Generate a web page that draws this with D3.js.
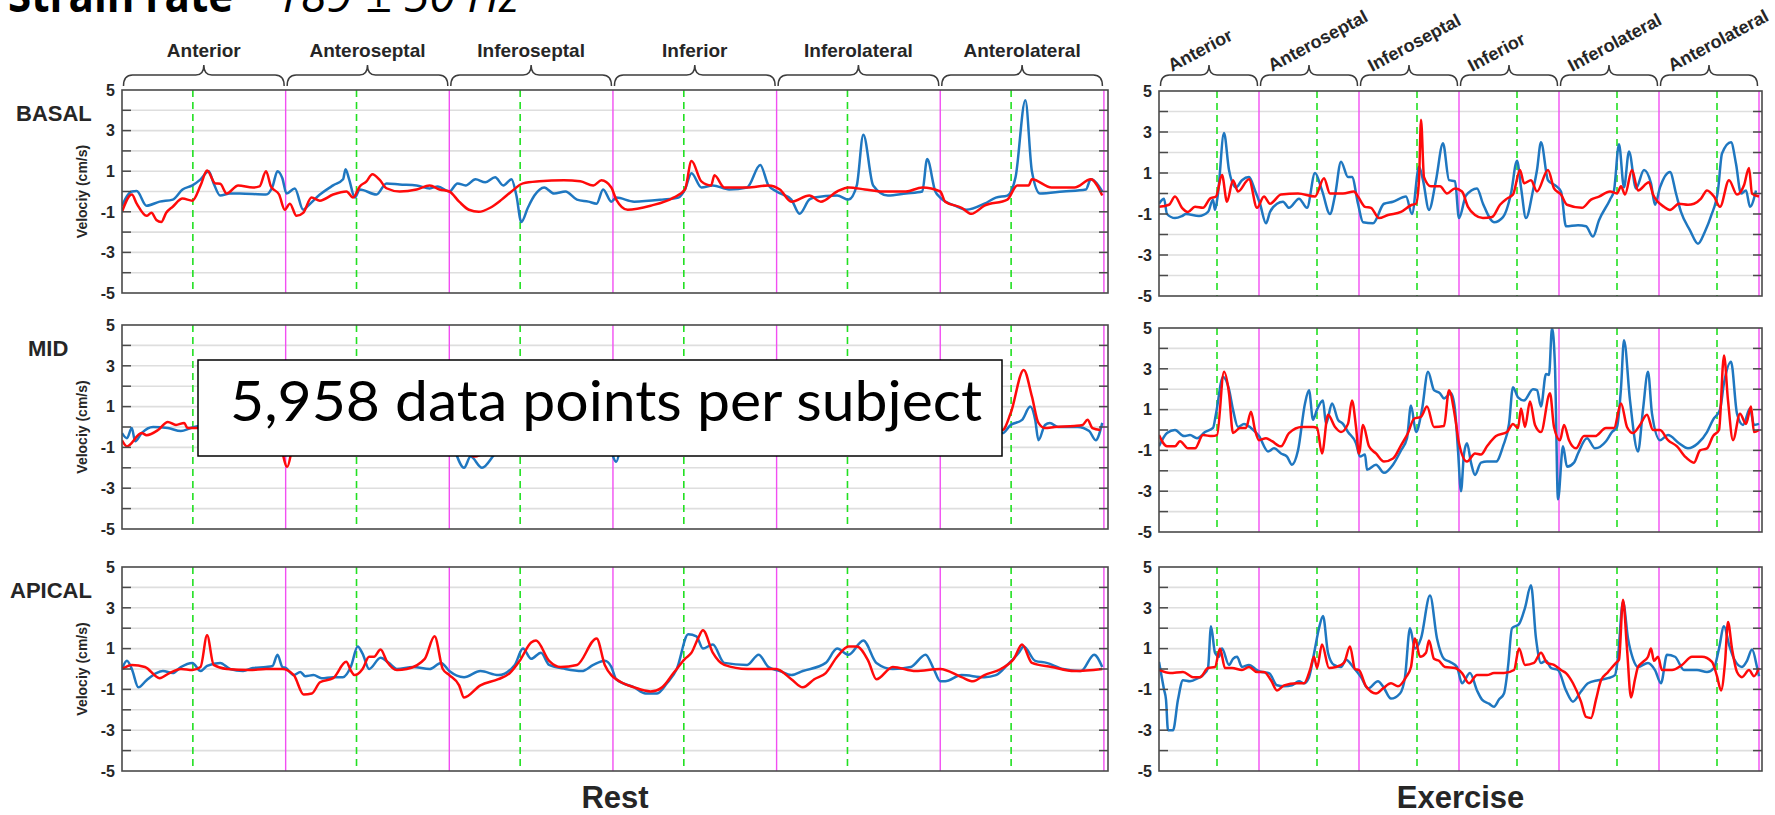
<!DOCTYPE html>
<html>
<head>
<meta charset="utf-8">
<script src="https://cdn.jsdelivr.net/npm/d3@7"></script>
<style>
  html, body { margin: 0; padding: 0; background: #fff; }
  svg { display: block; }
  text { font-family: "Liberation Sans", Arial, Helvetica, sans-serif; }
</style>
</head>
<body>
<svg id="chart" width="1775" height="815"></svg>
<script>
// ---------- labels ----------
const segmentNames = ["Anterior", "Anteroseptal", "Inferoseptal", "Inferior", "Inferolateral", "Anterolateral"];
const levelNames = ["BASAL", "MID", "APICAL"];
const conditionNames = ["Rest", "Exercise"];
const yTickLabels = [5, 3, 1, -1, -3, -5];
const yAxisTitle = "Velociy (cm/s)";
const titleMain = "Strain rate";
const titleRate = "189 \u00b1 50 Hz";
const noteText = "5,958 data points per subject";

// event marker position inside each segment (fraction of a segment)
const restEventOffset = 0.433;
const exerciseEventOffset = 0.58;

// ---------- velocity traces: [time in segment units, velocity cm/s] ----------
const restBasalBlue = [[0,-0.7],[0.06,0],[0.09,0.02],[0.15,-0.7],[0.23,-0.5],[0.31,-0.4],[0.37,0.1],[0.43,0.3],[0.48,0.6],[0.53,1.0],[0.56,0.4],[0.6,-0.2],[0.66,-0.1],[0.72,-0.1],[0.88,-0.15],[0.92,0.25],[0.95,1.0],[0.98,0.65],[1.005,-0.1],[1.056,0.15],[1.107,-0.9],[1.137,-0.7],[1.209,-0.15],[1.29,0.3],[1.351,0.6],[1.366,1.1],[1.388,0.6],[1.423,-0.3],[1.453,0.1],[1.555,-0.15],[1.616,0.4],[1.697,0.35],[1.8,0.3],[1.88,0.15],[1.93,0.25],[2.0,0.0],[2.05,0.4],[2.1,0.3],[2.16,0.6],[2.22,0.45],[2.28,0.7],[2.33,0.3],[2.38,0.6],[2.41,-0.2],[2.44,-1.5],[2.48,-0.8],[2.52,-0.2],[2.58,0.2],[2.64,-0.1],[2.71,0.0],[2.78,-0.4],[2.85,-0.5],[2.9,-0.6],[2.94,0.1],[2.99,-0.5],[3.02,-0.3],[3.13,-0.5],[3.3,-0.4],[3.4,-0.3],[3.44,0.1],[3.48,0.9],[3.54,0.2],[3.61,0.3],[3.71,0.1],[3.82,0.2],[3.9,1.3],[3.95,0.3],[4.0,0.0],[4.09,-0.4],[4.14,-1.1],[4.2,-0.4],[4.23,-0.3],[4.37,-0.2],[4.44,-0.4],[4.49,0.3],[4.53,2.8],[4.59,0.3],[4.68,-0.2],[4.79,-0.1],[4.89,0.0],[4.92,1.6],[4.97,0.0],[5.0,-0.3],[5.09,-0.7],[5.16,-0.9],[5.27,-0.6],[5.34,-0.3],[5.41,-0.2],[5.46,0.7],[5.52,4.5],[5.56,1.0],[5.61,-0.1],[5.75,0.0],[5.89,0.1],[5.92,0.6],[5.99,0.0]];
const restBasalRed = [[0,-1.0],[0.06,-0.15],[0.09,-0.6],[0.15,-1.2],[0.18,-1.05],[0.21,-1.4],[0.24,-1.5],[0.27,-1.05],[0.31,-0.75],[0.37,-0.35],[0.43,-0.45],[0.48,0.3],[0.52,1.03],[0.57,0.4],[0.6,0.38],[0.64,-0.1],[0.71,0.3],[0.8,0.2],[0.84,0.25],[0.88,1.0],[0.91,0.25],[0.96,-0.15],[0.995,-0.9],[1.026,-0.6],[1.066,-1.2],[1.107,-1.05],[1.158,-0.3],[1.209,-0.45],[1.29,-0.15],[1.372,0.0],[1.412,-0.3],[1.453,0.25],[1.494,0.5],[1.53,0.85],[1.575,0.57],[1.616,0.16],[1.697,0.0],[1.8,0.1],[1.88,0.3],[1.94,0.1],[2.0,0.0],[2.06,-0.5],[2.12,-0.9],[2.18,-1.0],[2.25,-0.8],[2.32,-0.4],[2.38,0.0],[2.45,0.4],[2.55,0.5],[2.7,0.55],[2.8,0.5],[2.88,0.3],[2.93,0.55],[2.99,0.2],[3.02,-0.4],[3.09,-0.9],[3.23,-0.7],[3.37,-0.3],[3.44,0.1],[3.48,1.5],[3.54,0.5],[3.6,0.3],[3.62,0.8],[3.68,0.2],[3.82,0.2],[3.95,0.3],[4.02,0.1],[4.09,-0.5],[4.2,-0.2],[4.27,-0.5],[4.37,0.0],[4.44,0.2],[4.54,0.1],[4.65,0.0],[4.79,0.0],[4.89,0.2],[5.0,0.0],[5.03,-0.5],[5.13,-0.8],[5.19,-1.1],[5.27,-0.7],[5.41,-0.4],[5.47,0.3],[5.54,0.3],[5.56,0.6],[5.68,0.2],[5.82,0.2],[5.92,0.6],[5.99,-0.2]];

const restMidBlue = [[0,-0.3],[0.03,-0.55],[0.06,-0.05],[0.08,-0.7],[0.12,-0.3],[0.19,0.0],[0.28,-0.05],[0.36,-0.2],[0.42,-0.05],[0.47,0.05],[0.6,0.3],[0.8,0.1],[1.0,-0.6],[1.2,0.2],[1.5,0.4],[1.8,0.1],[2.0,-0.6],[2.09,-2.0],[2.13,-1.45],[2.2,-2.0],[2.28,-1.3],[2.4,-0.5],[2.6,0.2],[2.8,0.0],[2.96,-0.5],[3.02,-1.7],[3.06,-0.6],[3.3,0.3],[3.6,0.5],[3.9,0.2],[4.2,0.0],[4.5,0.4],[4.8,0.2],[5.1,-0.2],[5.38,-0.3],[5.43,0.1],[5.5,0.35],[5.55,1.0],[5.58,0.35],[5.6,-0.65],[5.64,0.1],[5.67,0.2],[5.72,0.0],[5.84,0.0],[5.91,-0.2],[5.95,-0.65],[5.99,0.2]];
const restMidRed = [[0,-0.65],[0.03,-0.95],[0.12,-0.3],[0.15,-0.4],[0.22,-0.15],[0.28,0.25],[0.33,0.1],[0.38,0.2],[0.4,-0.05],[0.47,-0.05],[0.7,0.2],[0.95,-0.4],[1.01,-1.95],[1.05,-0.8],[1.3,0.0],[1.6,0.3],[1.9,0.0],[2.1,-1.0],[2.15,-1.45],[2.3,-0.8],[2.6,0.3],[2.9,0.0],[3.1,-0.5],[3.4,0.4],[3.7,0.3],[4.0,0.0],[4.3,0.2],[4.6,0.5],[4.9,0.1],[5.2,-0.1],[5.38,-0.15],[5.43,0.67],[5.51,2.8],[5.56,1.5],[5.6,0.2],[5.64,-0.05],[5.7,0.0],[5.82,0.05],[5.87,0.1],[5.9,0.35],[5.93,-0.05],[5.98,-0.15]];

const restApicalBlue = [[0,0],[0.03,0.4],[0.06,0],[0.1,-0.9],[0.15,-0.55],[0.21,-0.2],[0.25,-0.1],[0.31,-0.2],[0.36,0.1],[0.43,0.3],[0.48,-0.1],[0.52,0.15],[0.6,0.3],[0.66,0],[0.74,-0.1],[0.8,0.05],[0.88,0.1],[0.92,0.15],[0.95,0.7],[0.98,0.1],[1.0,0.05],[1.05,-0.3],[1.09,-0.15],[1.12,-0.35],[1.17,-0.3],[1.22,-0.45],[1.29,-0.4],[1.35,-0.4],[1.4,0.15],[1.44,1.1],[1.47,0.75],[1.51,0],[1.58,0.55],[1.63,0.3],[1.68,0],[1.78,0.1],[1.88,0.0],[1.95,0.3],[2.0,-0.1],[2.09,-0.4],[2.19,-0.1],[2.3,-0.3],[2.4,0.2],[2.45,1.0],[2.5,0.5],[2.56,0.8],[2.61,0.2],[2.71,0.0],[2.81,-0.1],[2.88,0.2],[2.95,0.4],[2.99,0.1],[3.02,-0.5],[3.13,-0.9],[3.2,-1.2],[3.27,-1.2],[3.33,-0.7],[3.39,0.0],[3.46,1.7],[3.51,1.6],[3.55,1.0],[3.61,1.2],[3.68,0.3],[3.82,0.2],[3.89,0.7],[3.95,0.1],[4.02,-0.1],[4.09,-0.3],[4.16,-0.1],[4.3,0.3],[4.37,1.0],[4.44,0.7],[4.53,1.4],[4.61,0.3],[4.71,0.0],[4.82,0.1],[4.91,0.7],[4.96,0.0],[5.0,-0.6],[5.03,-0.6],[5.13,-0.3],[5.27,-0.4],[5.34,-0.3],[5.41,0.2],[5.48,0.8],[5.51,1.1],[5.58,0.4],[5.65,0.3],[5.75,0.0],[5.86,-0.1],[5.94,0.7],[5.99,0.1]];
const restApicalRed = [[0,0],[0.06,0.2],[0.14,0.1],[0.23,-0.45],[0.29,-0.2],[0.36,0],[0.43,-0.05],[0.48,0.1],[0.52,1.65],[0.56,0.2],[0.64,0],[0.78,-0.05],[0.88,0],[0.98,0],[1.05,-0.3],[1.11,-1.25],[1.16,-1.2],[1.21,-0.65],[1.29,-0.45],[1.37,0.35],[1.4,-0.1],[1.42,-0.3],[1.47,0],[1.51,0.6],[1.54,0.6],[1.58,0.95],[1.62,0.35],[1.68,-0.05],[1.74,0.0],[1.85,0.5],[1.91,1.6],[1.96,0.0],[2.0,-0.3],[2.06,-0.8],[2.09,-1.4],[2.19,-0.8],[2.3,-0.5],[2.37,-0.2],[2.43,0.4],[2.5,1.3],[2.53,1.4],[2.61,0.4],[2.68,0.1],[2.78,0.2],[2.9,1.5],[2.95,0.2],[2.99,-0.3],[3.02,-0.5],[3.13,-0.9],[3.23,-1.1],[3.3,-0.9],[3.37,-0.2],[3.44,0.5],[3.48,0.8],[3.52,1.5],[3.55,1.9],[3.61,0.8],[3.68,0.2],[3.82,0],[3.996,0],[4.09,-0.5],[4.16,-0.9],[4.23,-0.5],[4.3,-0.2],[4.37,0.6],[4.44,1.1],[4.49,1.1],[4.56,0.4],[4.61,-0.5],[4.71,0.1],[4.85,-0.1],[5.0,0],[5.13,-0.4],[5.2,-0.6],[5.27,-0.3],[5.37,0],[5.45,0.5],[5.5,1.2],[5.56,0.3],[5.68,0.1],[5.82,-0.1],[5.99,0]];

const exerBasalBlue = [[0,-0.5],[0.05,-0.25],[0.08,-1.0],[0.16,-1.2],[0.23,-1.1],[0.27,-1.0],[0.4,-1.1],[0.49,-0.9],[0.54,-0.3],[0.56,-0.8],[0.59,0],[0.65,2.95],[0.7,1.15],[0.77,0.3],[0.83,0.65],[0.9,0.8],[0.96,0.15],[1.01,-0.5],[1.07,-1.45],[1.11,-0.9],[1.18,-0.5],[1.24,-0.4],[1.3,-0.7],[1.4,-0.25],[1.48,-0.7],[1.56,1.0],[1.63,0.15],[1.71,-1.0],[1.76,-0.1],[1.82,1.55],[1.89,0.8],[1.93,0.8],[1.99,-0.5],[2.04,-1.4],[2.14,-1.45],[2.25,-0.5],[2.34,-0.4],[2.47,-0.15],[2.53,-1.0],[2.6,1.3],[2.64,0.65],[2.7,-0.8],[2.77,0.65],[2.84,2.45],[2.9,0.65],[2.96,0.6],[3.0,-1.2],[3.07,-0.1],[3.18,0.25],[3.24,-0.5],[3.35,-1.4],[3.44,-1.15],[3.52,0],[3.58,1.6],[3.62,0.3],[3.67,-1.2],[3.74,0.15],[3.78,1.15],[3.82,2.5],[3.89,0.65],[3.96,0.4],[4.02,0.1],[4.07,-1.6],[4.19,-1.55],[4.27,-1.6],[4.34,-2.1],[4.4,-1.3],[4.51,-0.3],[4.55,0.15],[4.6,2.4],[4.65,0.3],[4.7,2.05],[4.77,0.25],[4.85,1.15],[4.92,0.5],[4.96,-0.55],[5.01,0.3],[5.11,1.05],[5.17,0],[5.22,-0.9],[5.31,-1.8],[5.39,-2.45],[5.46,-1.85],[5.52,-1.1],[5.59,0.15],[5.63,1.95],[5.72,2.5],[5.77,1.45],[5.82,0],[5.87,0.15],[5.91,-0.65],[5.97,0.15]];
const exerBasalRed = [[0,-0.65],[0.1,-0.55],[0.16,-0.15],[0.23,-0.7],[0.29,-0.9],[0.36,-0.65],[0.44,-0.7],[0.51,-0.25],[0.57,-0.15],[0.63,0.9],[0.68,-0.4],[0.74,0.65],[0.79,0.1],[0.9,0.7],[0.98,-0.7],[1.05,-0.15],[1.11,-0.5],[1.22,-0.05],[1.39,0],[1.56,-0.15],[1.65,0.75],[1.71,0],[1.84,0],[1.95,0.1],[1.99,-0.15],[2.06,-0.65],[2.12,-0.7],[2.2,-1.2],[2.29,-1.05],[2.42,-0.9],[2.53,-0.55],[2.57,-0.5],[2.6,0.65],[2.62,3.6],[2.65,0.8],[2.72,0.35],[2.81,0.35],[2.88,0],[2.96,0.25],[3.03,0.1],[3.09,-0.65],[3.16,-1.05],[3.24,-1.2],[3.33,-1.15],[3.41,-0.55],[3.48,-0.25],[3.54,-0.05],[3.61,1.15],[3.65,0.5],[3.72,0.65],[3.78,0.1],[3.89,1.15],[3.95,0.25],[4.02,-0.05],[4.08,-0.55],[4.23,-0.7],[4.32,-0.3],[4.4,-0.15],[4.51,0.1],[4.58,0],[4.62,0.35],[4.66,-0.05],[4.73,1.15],[4.79,0.15],[4.9,0.55],[4.94,-0.05],[5.05,-0.65],[5.11,-0.8],[5.2,-0.5],[5.29,-0.55],[5.35,-0.5],[5.42,-0.25],[5.48,0.15],[5.55,-0.15],[5.61,-0.65],[5.7,0.65],[5.78,-0.05],[5.85,0.4],[5.9,1.25],[5.93,0],[6.0,-0.15]];

const exerMidBlue = [[0,-0.8],[0.08,-0.15],[0.16,0],[0.25,-0.3],[0.31,-0.25],[0.38,-0.4],[0.46,-0.1],[0.54,0.1],[0.57,0.8],[0.64,2.6],[0.7,2.0],[0.74,1.0],[0.79,0.15],[0.85,0.3],[0.92,0.1],[1.0,-0.3],[1.09,-1.05],[1.15,-0.9],[1.22,-1.15],[1.28,-1.3],[1.33,-1.7],[1.39,-1.0],[1.46,1.3],[1.5,1.95],[1.54,0.5],[1.58,1.0],[1.64,1.45],[1.67,0.3],[1.73,1.3],[1.79,0.5],[1.84,0.3],[1.89,-0.1],[1.97,-0.65],[2.01,-1.3],[2.06,-1.2],[2.08,-1.95],[2.17,-1.7],[2.25,-2.1],[2.34,-1.7],[2.42,-1.0],[2.48,-0.4],[2.52,1.2],[2.57,-0.1],[2.63,1.0],[2.69,2.85],[2.75,1.95],[2.81,1.8],[2.85,1.55],[2.92,1.8],[2.96,1.0],[2.99,-1.0],[3.02,-3.0],[3.05,-1.15],[3.08,-0.65],[3.12,-1.6],[3.16,-2.2],[3.22,-1.6],[3.28,-1.55],[3.37,-1.55],[3.44,-0.8],[3.5,0.3],[3.54,2.1],[3.59,1.6],[3.65,1.45],[3.74,2.0],[3.78,1.95],[3.82,1.15],[3.87,2.75],[3.9,2.7],[3.93,5.0],[3.96,3.1],[3.99,-3.4],[4.04,-0.8],[4.08,-1.8],[4.15,-1.6],[4.19,-1.15],[4.28,-0.4],[4.36,-0.9],[4.47,-0.55],[4.53,-0.1],[4.58,0.15],[4.62,2.05],[4.65,4.4],[4.71,1.45],[4.79,-1.05],[4.84,1.0],[4.89,2.85],[4.93,0.8],[5.01,-0.5],[5.09,-0.25],[5.2,-0.65],[5.29,-0.9],[5.39,-0.65],[5.48,-0.1],[5.54,0.5],[5.61,1.0],[5.65,2.3],[5.72,3.35],[5.78,0.8],[5.84,0.25],[5.91,1.05],[5.95,0.25],[6.0,0.3]];
const exerMidRed = [[0,-0.25],[0.08,-0.8],[0.16,-0.8],[0.21,-0.55],[0.29,-0.9],[0.36,-0.9],[0.44,-0.25],[0.53,-0.3],[0.58,-0.25],[0.65,2.85],[0.7,1.8],[0.74,-0.15],[0.81,0.1],[0.87,0.1],[0.92,0.9],[0.96,0],[1.0,-0.5],[1.07,-0.4],[1.13,-0.55],[1.22,-0.8],[1.3,-0.15],[1.43,0.15],[1.54,0.15],[1.58,0.1],[1.63,-1.15],[1.69,0.75],[1.76,0.15],[1.82,-0.1],[1.89,0.3],[1.93,1.45],[1.97,0.15],[2.0,-1.15],[2.04,0.25],[2.1,-0.8],[2.17,-1.15],[2.25,-1.55],[2.34,-1.4],[2.42,-0.75],[2.49,-0.15],[2.55,0.55],[2.62,0.65],[2.68,1.15],[2.75,0.15],[2.85,0.2],[2.9,1.95],[2.96,0.65],[3.0,-0.65],[3.08,-1.55],[3.16,-1.15],[3.22,-1.2],[3.28,-0.8],[3.37,-0.3],[3.48,-0.1],[3.54,0.3],[3.59,0.1],[3.62,1.05],[3.66,0.15],[3.71,1.4],[3.76,0.25],[3.82,-0.1],[3.91,1.8],[3.95,0.15],[4.01,-0.5],[4.05,0.25],[4.1,-0.5],[4.17,-0.9],[4.25,-0.3],[4.36,-0.3],[4.47,0.1],[4.55,0.1],[4.62,1.3],[4.68,0.15],[4.74,-0.15],[4.81,0.25],[4.88,0.75],[4.94,0],[5.01,0],[5.09,-0.5],[5.18,-0.8],[5.26,-1.3],[5.35,-1.6],[5.41,-1.0],[5.48,-0.9],[5.54,-0.3],[5.6,0],[5.65,3.65],[5.69,1.45],[5.74,-0.5],[5.81,0.8],[5.87,0.3],[5.92,1.15],[5.95,-0.1],[6.0,0]];

const exerApicalBlue = [[0,0.35],[0.05,-1.0],[0.07,-1.5],[0.09,-3.0],[0.14,-3.0],[0.19,-1.5],[0.24,-0.55],[0.31,-0.6],[0.39,-0.45],[0.44,-0.3],[0.49,0.05],[0.52,2.1],[0.56,0.8],[0.6,0.6],[0.63,1.0],[0.7,0.2],[0.74,0.5],[0.78,0.6],[0.83,0.1],[0.9,0.2],[0.98,-0.05],[1.03,-0.15],[1.1,-0.2],[1.18,-0.8],[1.25,-0.85],[1.33,-0.8],[1.4,-0.6],[1.45,-0.7],[1.5,-0.4],[1.55,0.75],[1.6,2.0],[1.64,2.6],[1.69,0.8],[1.75,0.2],[1.82,0.1],[1.87,0.45],[1.94,0.1],[2.02,-0.4],[2.09,-0.95],[2.19,-0.6],[2.24,-0.85],[2.32,-1.45],[2.41,-1.2],[2.46,-0.4],[2.51,2.0],[2.56,1.0],[2.62,1.5],[2.71,3.6],[2.78,1.5],[2.85,0.5],[2.91,0.35],[2.98,0.1],[3.03,-0.7],[3.11,-0.2],[3.18,-1.05],[3.23,-1.5],[3.3,-1.7],[3.35,-1.85],[3.4,-1.5],[3.45,-1.2],[3.49,0.1],[3.53,2.0],[3.6,2.2],[3.66,3.0],[3.72,4.1],[3.77,1.5],[3.82,0.3],[3.87,0.4],[3.92,0.05],[3.99,-0.05],[4.07,-1.05],[4.14,-1.6],[4.22,-1.1],[4.29,-0.7],[4.39,-0.55],[4.49,-0.45],[4.56,-0.3],[4.59,0.6],[4.64,3.3],[4.69,1.5],[4.74,0.5],[4.79,0.1],[4.89,0.3],[4.96,-0.05],[5.02,-0.7],[5.08,0.7],[5.16,0.6],[5.25,-0.05],[5.38,-0.05],[5.48,-0.15],[5.55,0.05],[5.6,1.0],[5.65,2.1],[5.7,1.2],[5.75,0.5],[5.83,0.1],[5.88,0.4],[5.93,0.95],[5.98,0.1],[6.0,-0.35]];
const exerApicalRed = [[0,-0.05],[0.11,-0.2],[0.24,-0.15],[0.34,-0.4],[0.41,-0.4],[0.49,0.05],[0.56,0.1],[0.61,1.0],[0.66,0.05],[0.73,0.05],[0.83,-0.05],[0.9,0.1],[0.98,-0.15],[1.05,-0.15],[1.12,-0.55],[1.18,-1.05],[1.25,-0.8],[1.38,-0.7],[1.45,-0.7],[1.51,-0.05],[1.55,0.6],[1.58,0.05],[1.63,1.2],[1.7,0.05],[1.77,0.1],[1.85,0.3],[1.91,1.1],[1.96,0.0],[2.0,-0.05],[2.07,-0.85],[2.17,-1.2],[2.24,-0.95],[2.32,-0.7],[2.39,-0.85],[2.47,-0.4],[2.52,0.1],[2.56,1.5],[2.61,0.6],[2.67,0.8],[2.7,1.4],[2.75,0.5],[2.8,0.4],[2.86,0.1],[2.96,0.05],[3.03,-0.2],[3.1,-0.7],[3.18,-0.3],[3.28,-0.3],[3.35,-0.2],[3.45,-0.2],[3.55,-0.05],[3.6,1.0],[3.66,0.2],[3.75,0.3],[3.82,0.8],[3.88,0.3],[3.95,0.2],[4.02,-0.05],[4.07,-0.2],[4.14,-0.7],[4.22,-1.6],[4.27,-2.35],[4.32,-2.4],[4.37,-1.5],[4.42,-0.55],[4.49,-0.15],[4.57,0.3],[4.6,0.45],[4.64,3.4],[4.68,1.0],[4.72,-1.4],[4.76,-0.5],[4.79,0.1],[4.84,0.35],[4.89,0.6],[4.92,1.0],[4.95,0.4],[4.99,0.6],[5.03,-0.05],[5.13,-0.05],[5.23,0.2],[5.33,0.6],[5.43,0.6],[5.53,0.35],[5.58,-0.35],[5.62,-1.05],[5.66,0.3],[5.69,2.3],[5.73,1.0],[5.78,-0.15],[5.83,-0.4],[5.9,-0.05],[5.95,-0.35],[6.0,0.05]];

// traces grouped per condition, one [blue, red] pair per level
const restTraces = [[restBasalBlue, restBasalRed], [restMidBlue, restMidRed], [restApicalBlue, restApicalRed]];
const exerciseTraces = [[exerBasalBlue, exerBasalRed], [exerMidBlue, exerMidRed], [exerApicalBlue, exerApicalRed]];

// ---------- layout ----------
const svg = d3.select("#chart");
const COLORS = {
  blue: "#1f77c0", red: "#ff0a0a", green: "#22e022", magenta: "#f24ff2",
  grid: "#dedede", frame: "#4a4a4a", text: "#262626"
};

const columns = [
  { name: conditionNames[0], traces: restTraces, eventOffset: restEventOffset,
    x0: 122, x1: 1108, tMax: 6.025, rows: [[90, 293], [325, 529], [567, 771]], rotatedLabels: false },
  { name: conditionNames[1], traces: exerciseTraces, eventOffset: exerciseEventOffset,
    x0: 1159, x1: 1762, tMax: 6.03, rows: [[91, 296], [328, 532], [567, 771]], rotatedLabels: true }
];

const line = (x, y) => d3.line().x(d => x(d[0])).y(d => y(d[1])).curve(d3.curveMonotoneX);

function bracePath(xa, xb, yEnd, yBar, yTip) {
  const xc = (xa + xb) / 2, r = 9, q = 8;
  return `M${xa},${yEnd} Q${xa},${yBar} ${xa + r},${yBar} L${xc - q},${yBar} ` +
         `Q${xc},${yBar} ${xc},${yTip} Q${xc},${yBar} ${xc + q},${yBar} ` +
         `L${xb - r},${yBar} Q${xb},${yBar} ${xb},${yEnd}`;
}

columns.forEach((col, ci) => {
  const x = d3.scaleLinear().domain([0, col.tMax]).range([col.x0, col.x1]);
  const segIdx = d3.range(segmentNames.length);

  // segment braces and names above the first row
  const top = svg.append("g");
  segIdx.forEach(i => {
    const xa = x(i) + 1.5, xb = x(i + 1) - 1.5;
    top.append("path").attr("d", bracePath(xa, xb, 86, 75, 65))
      .attr("fill", "none").attr("stroke", "#3c3c3c").attr("stroke-width", 1.5);
    if (!col.rotatedLabels) {
      top.append("text").attr("x", (xa + xb) / 2).attr("y", 57)
        .attr("text-anchor", "middle").attr("font-size", 19).attr("font-weight", 700)
        .attr("fill", COLORS.text).text(segmentNames[i]);
    } else {
      top.append("text").attr("transform", `translate(${x(i) + 13},72) rotate(-28)`)
        .attr("font-size", 18).attr("font-weight", 700)
        .attr("fill", COLORS.text).text(segmentNames[i]);
    }
  });

  col.rows.forEach(([yTop, yBot], ri) => {
    const y = d3.scaleLinear().domain([-5, 5]).range([yBot, yTop]);
    const g = svg.append("g");
    const clipId = `clip-${ci}-${ri}`;
    g.append("clipPath").attr("id", clipId).append("rect")
      .attr("x", col.x0).attr("y", yTop).attr("width", col.x1 - col.x0).attr("height", yBot - yTop);

    // horizontal grid at every integer
    g.selectAll(".grid").data(d3.range(-4, 5)).join("line")
      .attr("x1", col.x0).attr("x2", col.x1)
      .attr("y1", d => y(d)).attr("y2", d => y(d))
      .attr("stroke", COLORS.grid).attr("stroke-width", 1.6);

    // segment boundaries
    g.selectAll(".seg").data(d3.range(1, segmentNames.length + 1)).join("line")
      .attr("x1", d => x(d)).attr("x2", d => x(d))
      .attr("y1", yTop).attr("y2", yBot)
      .attr("stroke", COLORS.magenta).attr("stroke-width", 1.4);

    // event markers
    g.selectAll(".evt").data(segIdx.map(i => i + col.eventOffset)).join("line")
      .attr("x1", d => x(d)).attr("x2", d => x(d))
      .attr("y1", yTop).attr("y2", yBot)
      .attr("stroke", COLORS.green).attr("stroke-width", 1.6)
      .attr("stroke-dasharray", "7,5");

    // traces
    const [blue, red] = col.traces[ri];
    const lg = g.append("g").attr("clip-path", `url(#${clipId})`);
    lg.append("path").datum(blue).attr("d", line(x, y))
      .attr("fill", "none").attr("stroke", COLORS.blue).attr("stroke-width", 2.5)
      .attr("stroke-linejoin", "round");
    lg.append("path").datum(red).attr("d", line(x, y))
      .attr("fill", "none").attr("stroke", COLORS.red).attr("stroke-width", 2.5)
      .attr("stroke-linejoin", "round");

    // frame
    g.append("rect").attr("x", col.x0).attr("y", yTop)
      .attr("width", col.x1 - col.x0).attr("height", yBot - yTop)
      .attr("fill", "none").attr("stroke", COLORS.frame).attr("stroke-width", 1.6);

    // inward ticks, both sides
    const tickVals = d3.range(-4, 5);
    g.selectAll(".tl").data(tickVals).join("line")
      .attr("x1", col.x0).attr("x2", col.x0 + 9)
      .attr("y1", d => y(d)).attr("y2", d => y(d))
      .attr("stroke", COLORS.frame).attr("stroke-width", 1.5);
    g.selectAll(".tr").data(tickVals).join("line")
      .attr("x1", col.x1).attr("x2", col.x1 - 9)
      .attr("y1", d => y(d)).attr("y2", d => y(d))
      .attr("stroke", COLORS.frame).attr("stroke-width", 1.5);

    // tick labels
    g.selectAll(".tlab").data(yTickLabels).join("text")
      .attr("x", col.x0 - 7).attr("y", d => y(d)).attr("dy", "0.36em")
      .attr("text-anchor", "end").attr("font-size", 16).attr("font-weight", 700)
      .attr("fill", COLORS.text).text(d => d);

    if (ci === 0) {
      const labelX = [16, 28, 10];
      g.append("text").attr("x", labelX[ri]).attr("y", yTop + 31)
        .attr("font-size", 22).attr("font-weight", 700).attr("fill", COLORS.text)
        .text(levelNames[ri]);
      g.append("text")
        .attr("transform", `translate(87,${(yTop + yBot) / 2}) rotate(-90)`)
        .attr("text-anchor", "middle").attr("font-size", 14).attr("font-weight", 700)
        .attr("fill", COLORS.text).text(yAxisTitle);
    }
  });

  // condition name below the columns
  svg.append("text").attr("x", (col.x0 + col.x1) / 2).attr("y", 808)
    .attr("text-anchor", "middle").attr("font-size", 31).attr("font-weight", 700)
    .attr("fill", COLORS.text).text(col.name);
});

// heading (runs off the top edge)
svg.append("text").attr("x", 8).attr("y", 12)
  .style("font-family", "'Open Sans', 'Noto Sans', sans-serif")
  .attr("font-size", 46).attr("font-weight", 700).attr("fill", "#000")
  .attr("textLength", 225).attr("lengthAdjust", "spacingAndGlyphs").text(titleMain);
svg.append("text").attr("x", 275).attr("y", 12)
  .style("font-family", "'Open Sans', 'Noto Sans', sans-serif")
  .attr("font-size", 46).attr("font-style", "italic").attr("fill", "#000")
  .attr("textLength", 245).attr("lengthAdjust", "spacingAndGlyphs").text(titleRate);

// callout box over the middle rest panel
const note = svg.append("g");
note.append("rect").attr("x", 198).attr("y", 360).attr("width", 804).attr("height", 96)
  .attr("fill", "#fff").attr("stroke", "#000").attr("stroke-width", 1.5);
note.append("text").attr("x", 230).attr("y", 421)
  .style("font-family", "Lato, 'Open Sans', sans-serif")
  .attr("font-size", 56).attr("fill", "#000")
  .attr("textLength", 752).attr("lengthAdjust", "spacingAndGlyphs").text(noteText);
</script>
</body>
</html>
